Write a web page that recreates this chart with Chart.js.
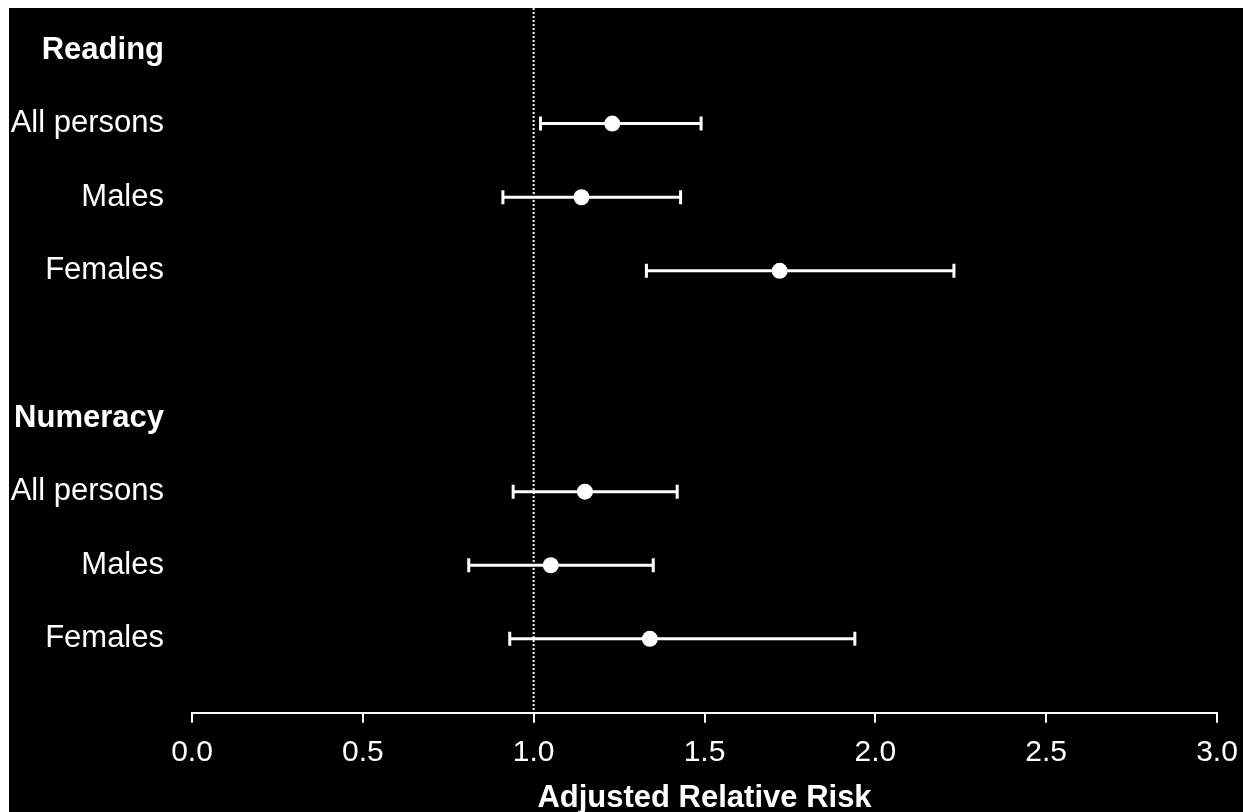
<!DOCTYPE html>
<html>
<head>
<meta charset="utf-8">
<script src="https://cdn.jsdelivr.net/npm/chart.js@4"></script>
<style>
  html, body { margin: 0; padding: 0; background: #fff; overflow: hidden; }
  #wrap { position: absolute; left: 9px; top: 8px; width: 1234px; height: 804px; background: #000; }
</style>
</head>
<body>
<div id="wrap"><canvas id="chart"></canvas></div>
<script>
// rows top to bottom (blank row between the two groups)
const rowLabels = ['Reading', 'All persons', 'Males', 'Females', '', 'Numeracy', 'All persons', 'Males', 'Females'];
const headerRows = [0, 5];
const estRows = [1, 2, 3, 6, 7, 8];
const estimate = [1.23, 1.14, 1.72, 1.15, 1.05, 1.34];
const lower = [1.02, 0.91, 1.33, 0.94, 0.81, 0.93];
const upper = [1.49, 1.43, 2.23, 1.42, 1.35, 1.94];
const xTicks = [0, 0.5, 1, 1.5, 2, 2.5, 3];
const refValue = 1.0;

const font = "'Liberation Sans', Arial, sans-serif";
const yMin = -0.435, yMax = 9.005;
const refTop = -0.57; // dotted line runs up to the top of the black panel

const datasets = [];

// dotted reference line at RR = 1
datasets.push({
  type: 'line',
  data: [{ x: refValue, y: refTop }, { x: refValue, y: yMax }],
  borderColor: '#fff',
  borderWidth: 2,
  borderDash: [2, 2],
  pointRadius: 0,
  clip: false,
});

// confidence intervals with end caps
estRows.forEach((row, i) => {
  datasets.push({
    type: 'line',
    data: [{ x: lower[i], y: row }, { x: upper[i], y: row }],
    borderColor: '#fff',
    borderWidth: 3,
    pointStyle: 'line',
    rotation: 90,
    pointRadius: 7,
    pointBorderWidth: 3,
    pointBorderColor: '#fff',
  });
});

// point estimates
datasets.push({
  type: 'scatter',
  data: estRows.map((row, i) => ({ x: estimate[i], y: row })),
  backgroundColor: '#fff',
  borderColor: '#fff',
  pointRadius: 8,
  pointBorderWidth: 0,
});

new Chart(document.getElementById('chart'), {
  type: 'scatter',
  data: { datasets: datasets },
  options: {
    responsive: true,
    maintainAspectRatio: false,
    animation: false,
    layout: { padding: { top: 0, right: 26, bottom: -5, left: 0 } },
    plugins: { legend: { display: false }, tooltip: { enabled: false } },
    scales: {
      x: {
        type: 'linear',
        min: 0,
        max: 3,
        afterBuildTicks: (axis) => { axis.ticks = xTicks.map(v => ({ value: v })); },
        afterFit: (axis) => {
          axis.paddingLeft = 0;
          axis.paddingRight = 0;
        },
        ticks: {
          color: '#fff',
          font: { family: font, size: 30 },
          padding: 12,
          maxRotation: 0,
          callback: (v) => v.toFixed(1),
        },
        grid: { drawOnChartArea: false, drawTicks: true, tickLength: 10, color: '#fff', lineWidth: 2 },
        border: { display: true, color: '#fff', width: 2 },
        title: {
          display: true,
          text: 'Adjusted Relative Risk',
          color: '#fff',
          font: { family: font, size: 31, weight: 'bold' },
          padding: { top: -3, bottom: 0 },
        },
      },
      y: {
        type: 'linear',
        min: yMin,
        max: yMax,
        reverse: true,
        afterBuildTicks: (axis) => { axis.ticks = rowLabels.map((_, i) => ({ value: i })); },
        afterFit: (axis) => {
          axis.width = 183;
          axis.paddingTop = 0;
          axis.paddingBottom = 0;
        },
        ticks: {
          color: '#fff',
          padding: 28,
          font: (ctx) => ({
            family: font,
            size: 31,
            weight: ctx.tick && headerRows.includes(ctx.tick.value) ? 'bold' : 'normal',
          }),
          callback: (v) => rowLabels[v],
        },
        grid: { display: false, drawTicks: false },
        border: { display: false },
      },
    },
  },
});
</script>
</body>
</html>
